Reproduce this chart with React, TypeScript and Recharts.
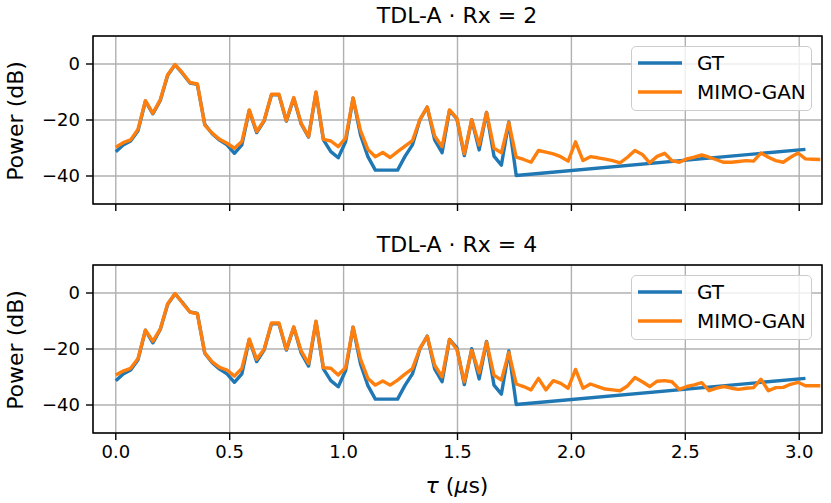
import React from 'react'
import {
  LineChart,
  Line,
  XAxis,
  YAxis,
  CartesianGrid,
  Legend,
  ReferenceArea,
} from 'recharts'

// tap delays are on the 30.72 MHz sample grid (µs per sample)
const SAMPLE_US = 1 / 30.72

// GT is only known up to sample 54, then one last tap at sample 93
const gtSamples = [
  0, 1, 2, 3, 4, 5, 6, 7, 8, 9, 10, 11, 12, 13, 14, 15, 16, 17, 18, 19,
  20, 21, 22, 23, 24, 25, 26, 27, 28, 29, 30, 31, 32, 33, 34, 35, 36, 37, 38, 39,
  40, 41, 42, 43, 44, 45, 46, 47, 48, 49, 50, 51, 52, 53, 54, 93,
]
const gtDb = [
  -31.3, -28.9, -27.5, -23.8, -13.3, -17.8, -13.0, -4.0, -0.3, -3.4,
  -6.8, -7.3, -21.5, -24.9, -27.2, -28.9, -31.9, -28.9, -16.6, -24.5,
  -20.4, -11.0, -11.0, -20.4, -12.2, -21.4, -26.1, -10.2, -27.1, -31.3,
  -33.5, -27.7, -12.2, -25.3, -33.1, -37.9, -37.9, -37.9, -37.9, -33.0,
  -28.9, -20.0, -15.4, -27.1, -31.7, -16.6, -19.6, -32.7, -19.9, -30.7,
  -17.3, -32.9, -36.1, -20.7, -39.8, -30.5,
]

// MIMO-GAN, one value per sample 0..95
const ganRx2Db = [
  -29.7, -28.1, -27.1, -23.3, -13.1, -17.6, -12.8, -3.8, -0.2, -3.2,
  -6.6, -7.1, -21.8, -24.7, -26.9, -28.3, -30.1, -27.7, -16.4, -24.1,
  -20.2, -10.8, -10.8, -20.2, -12.0, -21.2, -25.9, -10.0, -26.9, -27.5,
  -29.5, -26.5, -12.1, -23.8, -30.5, -33.1, -31.6, -33.4, -31.3, -29.3,
  -27.4, -19.9, -15.4, -25.7, -29.5, -16.4, -19.4, -32.1, -19.9, -28.9,
  -17.3, -30.1, -31.7, -20.9, -33.3, -34.1, -35.1, -30.9, -31.5, -32.1,
  -33.1, -34.7, -27.8, -34.5, -33.1, -33.5, -34.0, -34.5, -35.3, -33.3,
  -30.9, -32.3, -35.3, -33.0, -31.9, -34.5, -35.1, -33.9, -33.3, -32.5,
  -33.3, -34.2, -35.1, -35.1, -34.8, -34.5, -34.7, -31.8, -33.3, -34.5,
  -35.1, -33.3, -31.8, -33.9, -34.0, -34.1,
]
const ganRx4Db = [
  -29.3, -27.9, -26.9, -23.4, -13.3, -17.2, -12.9, -3.8, -0.2, -3.6,
  -6.8, -7.4, -21.4, -24.6, -26.6, -27.5, -29.7, -26.9, -16.5, -23.7,
  -20.1, -10.7, -10.7, -20.1, -12.1, -20.7, -25.2, -10.1, -26.7, -26.9,
  -29.3, -26.6, -12.2, -23.6, -30.5, -32.9, -31.4, -32.9, -31.1, -29.0,
  -27.0, -19.9, -15.5, -25.8, -29.9, -16.6, -20.2, -31.7, -20.5, -28.5,
  -17.5, -29.3, -31.1, -21.2, -32.5, -33.4, -34.6, -30.5, -34.6, -31.3,
  -32.3, -34.0, -27.3, -34.0, -32.5, -33.4, -34.3, -34.6, -34.9, -33.2,
  -30.2, -31.7, -33.4, -31.5, -31.3, -31.7, -34.4, -33.4, -32.8, -32.0,
  -34.9, -34.0, -33.4, -34.0, -34.4, -34.0, -33.8, -30.8, -34.9, -33.8,
  -33.7, -32.6, -31.9, -33.1, -33.1, -33.1,
]

const xTicks = [0, 0.5, 1, 1.5, 2, 2.5, 3]
const yTicks = [-40, -20, 0]
const panelTitles = ['TDL-A · Rx = 2', 'TDL-A · Rx = 4']

const FONT = '"DejaVu Sans", sans-serif'
const X_DOMAIN: [number, number] = [-0.1, 3.1]
const Y_DOMAIN: [number, number] = [-50, 10]

function buildRows(gan: number[]) {
  return gan.map((db, n) => {
    const k = gtSamples.indexOf(n)
    return { tau: n * SAMPLE_US, gt: k >= 0 ? gtDb[k] : null, gan: db }
  })
}

const minus = (v: number) => String(v).replace('-', '\u2212')

function MplLegend({ payload }: any) {
  return (
    <div
      style={{
        position: 'relative',
        width: 181,
        height: 65,
        boxSizing: 'border-box',
        border: '1.6px solid #cccccc',
        borderRadius: 5,
        background: 'rgba(255,255,255,0.8)',
        fontFamily: FONT,
        fontSize: 20,
        color: '#000',
      }}
    >
      {(payload || []).map((item: any, i: number) => (
        <div key={item.value} style={{ position: 'absolute', left: 5, top: 2 + i * 29.4, height: 28, display: 'flex', alignItems: 'center' }}>
          <svg width={46} height={8} style={{ display: 'block' }}>
            <line x1={1} x2={45} y1={4} y2={4} stroke={item.color} strokeWidth={3.4} />
          </svg>
          <span style={{ marginLeft: 14, lineHeight: '28px' }}>{item.value}</span>
        </div>
      ))}
    </div>
  )
}

interface PanelProps {
  gan: number[]
  height: number
  xAxisHeight: number
  showTickLabels: boolean
}

function Panel({ gan, height, xAxisHeight, showTickLabels }: PanelProps) {
  const rows = buildRows(gan)
  const tickStyle = { fill: '#000', fontSize: 18, fontFamily: FONT }
  return (
    <LineChart width={831} height={height} data={rows} margin={{ top: 36, right: 9, left: 3, bottom: 0 }}>
      <CartesianGrid stroke="#b0b0b0" strokeWidth={1.4} />
      <XAxis
        dataKey="tau"
        type="number"
        domain={X_DOMAIN}
        ticks={xTicks}
        allowDataOverflow
        height={xAxisHeight}
        tick={tickStyle}
        tickFormatter={(v) => (showTickLabels ? v.toFixed(1) : '')}
        tickSize={7}
        tickMargin={5}
        tickLine={{ stroke: '#000', strokeWidth: 1.4 }}
        axisLine={false}
      />
      <YAxis
        type="number"
        domain={Y_DOMAIN}
        ticks={yTicks}
        allowDataOverflow
        width={90}
        tick={tickStyle}
        tickFormatter={minus}
        tickSize={7}
        tickMargin={6}
        tickLine={{ stroke: '#000', strokeWidth: 1.4 }}
        axisLine={false}
      />
      <Line
        dataKey="gt"
        name="GT"
        type="linear"
        stroke="#1f77b4"
        strokeWidth={3.4}
        strokeLinejoin="round"
        dot={false}
        connectNulls
        isAnimationActive={false}
      />
      <Line
        dataKey="gan"
        name="MIMO-GAN"
        type="linear"
        stroke="#ff7f0e"
        strokeWidth={3.4}
        strokeLinejoin="round"
        dot={false}
        isAnimationActive={false}
      />
      <ReferenceArea
        x1={X_DOMAIN[0]}
        x2={X_DOMAIN[1]}
        y1={Y_DOMAIN[0]}
        y2={Y_DOMAIN[1]}
        fill="none"
        stroke="#000"
        strokeWidth={1.5}
        ifOverflow="visible"
      />
      <Legend
        layout="horizontal"
        verticalAlign="middle"
        align="center"
        content={<MplLegend />}
        wrapperStyle={{ left: 631, top: 46, width: 181, height: 65 }}
      />
    </LineChart>
  )
}

export default function App() {
  return (
    <div style={{ position: 'absolute', left: 0, top: 0, width: 831, height: 503, background: '#fff', fontFamily: FONT }}>
      <div style={{ position: 'absolute', left: 0, top: 0 }}>
        <Panel gan={ganRx2Db} height={260} xAxisHeight={56} showTickLabels={false} />
      </div>
      <div style={{ position: 'absolute', left: 0, top: 229 }}>
        <Panel gan={ganRx4Db} height={274} xAxisHeight={70} showTickLabels />
      </div>
      <svg width={831} height={503} style={{ position: 'absolute', left: 0, top: 0, pointerEvents: 'none' }}>
        <g fontFamily={FONT} fill="#000" fontSize={22}>
          <text x={457} y={23} textAnchor="middle">{panelTitles[0]}</text>
          <text x={457} y={252} textAnchor="middle">{panelTitles[1]}</text>
          <text x={23} y={121} textAnchor="middle" transform="rotate(-90 23 121)">Power (dB)</text>
          <text x={23} y={350} textAnchor="middle" transform="rotate(-90 23 350)">Power (dB)</text>
          <text x={457} y={493} textAnchor="middle">
            <tspan fontStyle="italic">τ</tspan> (<tspan fontStyle="italic">μ</tspan>s)
          </text>
        </g>
      </svg>
    </div>
  )
}
